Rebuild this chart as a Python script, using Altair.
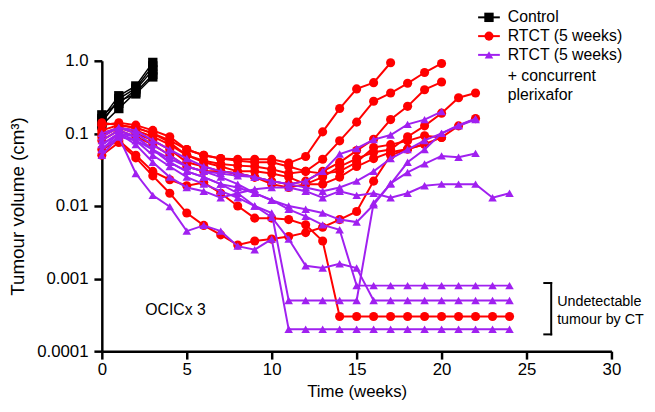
import math
import altair as alt
import pandas as pd

# ---------------- data (weekly tumour volumes, cm3; index = week) ----------------
control_1 = [0.16, 0.33, 0.45, 0.95]
control_2 = [0.14, 0.30, 0.42, 0.85]
control_3 = [0.18, 0.26, 0.40, 0.75]
control_4 = [0.13, 0.22, 0.37, 0.65]
control_5 = [0.15, 0.28, 0.35, 0.60]

rtct_1 = [0.14, 0.13, 0.12, 0.10, 0.08, 0.06, 0.05, 0.045, 0.044, 0.044, 0.044, 0.039,
          0.048, 0.105, 0.22, 0.41, 0.50, 0.94]
rtct_2 = [0.10, 0.12, 0.11, 0.09, 0.07, 0.05, 0.042, 0.038, 0.036, 0.035, 0.032, 0.028,
          0.03, 0.044, 0.079, 0.143, 0.277, 0.36, 0.49, 0.69, 0.92]
rtct_3 = [0.08, 0.11, 0.09, 0.07, 0.05, 0.035, 0.03, 0.03, 0.028, 0.025, 0.022, 0.02,
          0.022, 0.03, 0.04, 0.058, 0.083, 0.155, 0.236, 0.40, 0.51]
rtct_4 = [0.09, 0.12, 0.10, 0.08, 0.06, 0.04, 0.035, 0.03, 0.028, 0.025, 0.02, 0.018,
          0.02, 0.025, 0.035, 0.045, 0.055, 0.06, 0.09, 0.127, 0.19, 0.31, 0.36]
rtct_5 = [0.05, 0.075, 0.046, 0.026, 0.015, 0.008, 0.0054, 0.004, 0.0029, 0.0033, 0.0035,
          0.0038, 0.0043, 0.0051, 0.0065, 0.0084, 0.022, 0.05, 0.061, 0.071, 0.088, 0.127, 0.16]
rtct_6 = [0.06, 0.08, 0.05, 0.03, 0.023, 0.019, 0.021, 0.015, 0.01, 0.0068, 0.0068, 0.0065,
          0.0055, 0.0033, 0.0003, 0.0003, 0.0003, 0.0003, 0.0003, 0.0003, 0.0003, 0.0003,
          0.0003, 0.0003, 0.0003]
rtct_7 = [0.13, 0.14, 0.13, 0.11, 0.09, 0.06, 0.05, 0.045, 0.042, 0.04, 0.04, 0.035,
          0.03, 0.028, 0.03, 0.04, 0.064, 0.07, 0.079, 0.093, 0.088]
rtct_8 = [0.11, 0.13, 0.12, 0.10, 0.075, 0.05, 0.04, 0.035, 0.03, 0.03, 0.028, 0.025,
          0.02, 0.02, 0.025, 0.035, 0.045, 0.055, 0.061, 0.071]

plx_1 = [0.06, 0.10, 0.07, 0.04, 0.025, 0.018, 0.016, 0.013, 0.015, 0.017, 0.018, 0.018,
         0.016, 0.013, 0.016, 0.014, 0.015, 0.013, 0.015, 0.019, 0.02, 0.02, 0.02, 0.013, 0.015]
plx_2 = [0.05, 0.09, 0.028, 0.014, 0.0098, 0.0045, 0.0054, 0.0045, 0.0028, 0.0025, 0.0035,
         0.0002, 0.0002, 0.0002, 0.0002, 0.0002, 0.0002, 0.0002, 0.0002, 0.0002, 0.0002,
         0.0002, 0.0002, 0.0002, 0.0002]
plx_3 = [0.08, 0.11, 0.09, 0.06, 0.04, 0.03, 0.025, 0.02, 0.015, 0.01, 0.008, 0.0005,
         0.0005, 0.0005, 0.0005, 0.0005, 0.011, 0.02, 0.04, 0.06, 0.10, 0.13, 0.16]
plx_4 = [0.07, 0.10, 0.08, 0.05, 0.035, 0.025, 0.02, 0.016, 0.013, 0.01, 0.007, 0.0035,
         0.0015, 0.0014, 0.0016, 0.0014, 0.0005, 0.0005, 0.0005, 0.0005, 0.0005, 0.0005,
         0.0005, 0.0005, 0.0005]
plx_5 = [0.09, 0.12, 0.10, 0.07, 0.05, 0.035, 0.03, 0.025, 0.02, 0.015, 0.012, 0.009,
         0.0072, 0.0055, 0.0047, 0.0008, 0.0008, 0.0008, 0.0008, 0.0008, 0.0008, 0.0008,
         0.0008, 0.0008, 0.0008]
plx_6 = [0.10, 0.12, 0.11, 0.08, 0.06, 0.045, 0.035, 0.03, 0.028, 0.025, 0.022, 0.02,
         0.022, 0.03, 0.052, 0.062, 0.082, 0.095, 0.133, 0.155, 0.20]
plx_7 = [0.07, 0.10, 0.09, 0.06, 0.04, 0.03, 0.025, 0.02, 0.018, 0.015, 0.012, 0.01,
         0.009, 0.008, 0.0065, 0.006, 0.0104, 0.0205, 0.029, 0.038, 0.049, 0.047, 0.053]
plx_8 = [0.06, 0.09, 0.08, 0.06, 0.045, 0.035, 0.03, 0.028, 0.026, 0.025, 0.022, 0.02,
         0.018, 0.016, 0.018, 0.022, 0.03, 0.045, 0.06, 0.08, 0.10, 0.127, 0.155]

groups = ["Control", "RTCT (5 weeks)", "RTCT (5 weeks) + concurrent plerixafor"]
series = {
    groups[0]: [control_1, control_2, control_3, control_4, control_5],
    groups[1]: [rtct_1, rtct_2, rtct_3, rtct_4, rtct_5, rtct_6, rtct_7, rtct_8],
    groups[2]: [plx_1, plx_2, plx_3, plx_4, plx_5, plx_6, plx_7, plx_8],
}

x_ticks = [0, 5, 10, 15, 20, 25, 30]
y_ticks = [0.0001, 0.001, 0.01, 0.1, 1.0]
y_tick_labels = ["0.0001", "0.001", "0.01", "0.1", "1.0"]

rows = []
for g, lst in series.items():
    for i, vals in enumerate(lst):
        for wk, v in enumerate(vals):
            rows.append({"group": g, "sid": f"{g}-{i}", "week": wk, "vol": v})
df = pd.DataFrame(rows)

# ---------------- styling ----------------
FONT = "Liberation Sans"
colors = {groups[0]: "#000000", groups[1]: "#FF0000", groups[2]: "#A020F0"}
shapes = {groups[0]: "square", groups[1]: "circle", groups[2]: "triangle-up"}
sizes = {groups[0]: 90, groups[1]: 85, groups[2]: 75}
widths = {groups[0]: 1.5, groups[1]: 2, groups[2]: 2}

label_expr = ""
for t, lab in zip(y_ticks, y_tick_labels):
    label_expr += f"abs(log(datum.value)/log(10) - ({math.log10(t)})) < 0.01 ? '{lab}' : "
label_expr += "''"

x_enc = alt.X(
    "week:Q",
    scale=alt.Scale(domain=[0, 30], nice=False, zero=False),
    axis=alt.Axis(
        values=x_ticks, title="Time (weeks)", grid=False,
        domainColor="black", domainWidth=2.5, tickColor="black", tickWidth=2.5,
        tickSize=8, labelFont=FONT, labelFontSize=17, labelColor="black",
        labelPadding=3, titleFont=FONT, titleFontSize=17, titleFontWeight="normal",
        titleColor="black", titlePadding=6, labelFlush=False,
    ),
)
y_enc = alt.Y(
    "vol:Q",
    scale=alt.Scale(type="log", domain=[0.0001, 1], nice=False),
    axis=alt.Axis(
        values=y_ticks, labelExpr=label_expr, title="Tumour volume (cm³)", grid=False,
        domainColor="black", domainWidth=2.5, tickColor="black", tickWidth=2.5,
        tickSize=8, labelFont=FONT, labelFontSize=17, labelColor="black",
        labelPadding=6, titleFont=FONT, titleFontSize=19, titleFontWeight="normal",
        titleColor="black", titlePadding=9, labelFlush=False,
    ),
)

layers = []
for g in groups:
    base = alt.Chart(df).transform_filter(alt.datum.group == g)
    layers.append(
        base.mark_line(color=colors[g], strokeWidth=widths[g]).encode(
            x=x_enc, y=y_enc, detail="sid:N", order="week:Q"
        )
    )
    layers.append(
        base.mark_point(
            shape=shapes[g], filled=True, size=sizes[g], color=colors[g], opacity=1
        ).encode(x=x_enc, y=y_enc, detail="sid:N")
    )

one = pd.DataFrame({"k": [0]})

# legend (pixel layout)
leg_x0, leg_x1, leg_mx, leg_tx = 381, 403, 392, 411
leg_rows = [(-44, groups[0]), (-25, groups[1]), (-6, groups[2])]
for yy, g in leg_rows:
    layers.append(
        alt.Chart(one).mark_rule(color=colors[g], strokeWidth=2).encode(
            x=alt.value(leg_x0), x2=alt.value(leg_x1), y=alt.value(yy)
        )
    )
    layers.append(
        alt.Chart(one).mark_point(
            shape=shapes[g], filled=True, size=sizes[g], color=colors[g], opacity=1
        ).encode(x=alt.value(leg_mx), y=alt.value(yy))
    )
legend_texts = [(-44, "Control"), (-25, "RTCT (5 weeks)"), (-6, "RTCT (5 weeks)"),
                (15, "+ concurrent"), (35, "plerixafor")]
for yy, t in legend_texts:
    layers.append(
        alt.Chart(one).mark_text(
            text=t, align="left", baseline="middle", font=FONT, fontSize=16, color="black"
        ).encode(x=alt.value(leg_tx), y=alt.value(yy))
    )

# annotations
layers.append(
    alt.Chart(one).mark_text(
        text="OCICx 3", align="left", baseline="middle", font=FONT, fontSize=16, color="black"
    ).encode(x=alt.value(44), y=alt.value(252))
)
for yy, t in [(244, "Undetectable"), (262, "tumour by CT")]:
    layers.append(
        alt.Chart(one).mark_text(
            text=t, align="left", baseline="middle", font=FONT, fontSize=14.5, color="black"
        ).encode(x=alt.value(461), y=alt.value(yy))
    )
# bracket
layers.append(alt.Chart(one).mark_rule(color="black", strokeWidth=2).encode(
    x=alt.value(455), y=alt.value(224), y2=alt.value(278)))
layers.append(alt.Chart(one).mark_rule(color="black", strokeWidth=2).encode(
    x=alt.value(447), x2=alt.value(456), y=alt.value(225)))
layers.append(alt.Chart(one).mark_rule(color="black", strokeWidth=2).encode(
    x=alt.value(447), x2=alt.value(456), y=alt.value(277)))

chart = alt.layer(*layers).properties(
    width=516, height=294,
    autosize=alt.AutoSizeParams(type="none"),
    padding={"left": 95, "top": 51, "right": 36, "bottom": 50},
).configure_view(stroke=None)

chart.save("out.html", embed_options={"renderer": "svg", "actions": False})
